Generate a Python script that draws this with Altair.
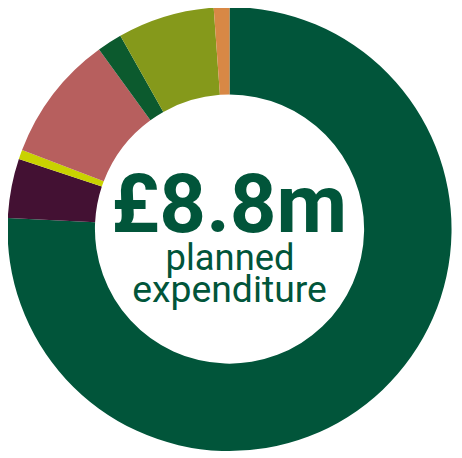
import altair as alt
import pandas as pd

# Segments clockwise from 12 o'clock (values in £m, total £8.8m)
segments = ["Segment 1", "Segment 2", "Segment 3", "Segment 4", "Segment 5", "Segment 6", "Segment 7"]
values = [6.67, 0.38, 0.06, 0.81, 0.16, 0.62, 0.10]
colors = ["#01553A", "#431133", "#C9D200", "#B75F5E", "#0C5A2E", "#85991B", "#D88845"]

center_lines = ["£8.8m", "planned", "expenditure"]

df = pd.DataFrame({"segment": segments, "value": values, "order": list(range(len(segments)))})

cx, cy = 225.5, 221

donut = alt.Chart(df).mark_arc(outerRadius=226, innerRadius=137).encode(
    theta=alt.Theta("value:Q", stack=True),
    color=alt.Color("segment:N", scale=alt.Scale(domain=segments, range=colors), legend=None),
    order=alt.Order("order:Q"),
    x=alt.value(cx),
    y=alt.value(cy),
)

src = pd.DataFrame({"t": [0]})

big = alt.Chart(src).mark_text(
    text=center_lines[0], font="Roboto", fontWeight="bold", fontSize=83,
    color="#01553A", align="center", baseline="alphabetic"
).encode(x=alt.value(cx - 0.5), y=alt.value(224))

line2 = alt.Chart(src).mark_text(
    text=center_lines[1], font="Roboto", fontSize=37,
    color="#01553A", align="center", baseline="alphabetic"
).encode(x=alt.value(cx + 0.5), y=alt.value(263))

line3 = alt.Chart(src).mark_text(
    text=center_lines[2], font="Roboto", fontSize=38,
    color="#01553A", align="center", baseline="alphabetic"
).encode(x=alt.value(cx), y=alt.value(295))

chart = alt.layer(donut, big, line2, line3).properties(
    width=454, height=450, padding=0,
    autosize=alt.AutoSizeParams(type="none"),
    background="white",
).configure_view(stroke=None)

chart.save("out.html", embed_options={"renderer": "svg", "actions": False})
